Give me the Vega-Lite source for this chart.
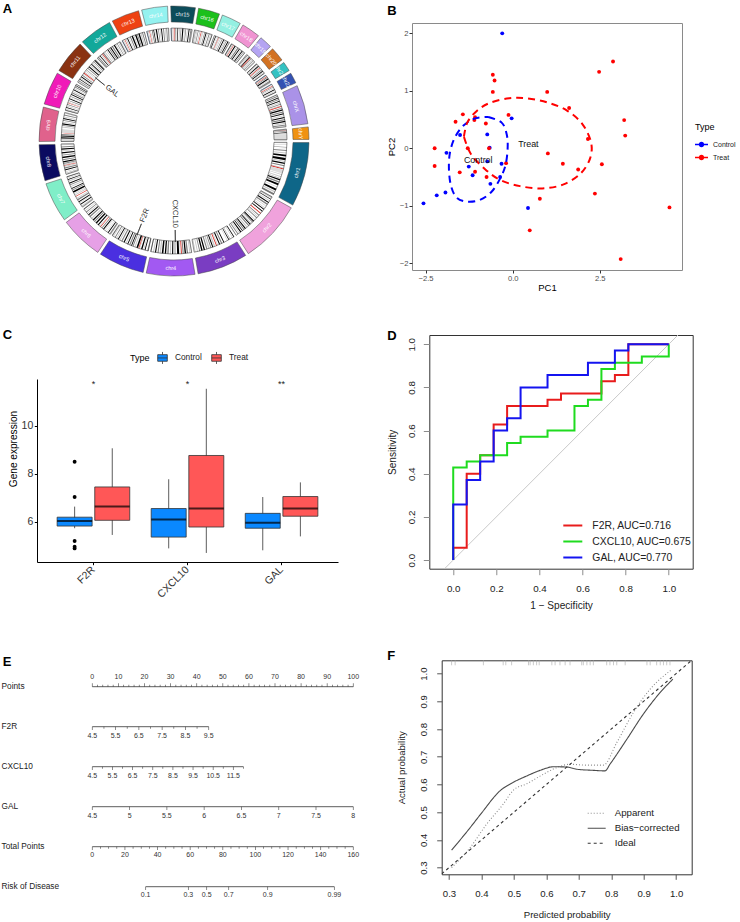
{
  "$schema": "https://vega.github.io/schema/vega-lite/v6.json",
  "padding": {"left": 1, "top": 3, "right": 0, "bottom": 0},
  "config": {
    "font": "Liberation Sans",
    "view": {"stroke": null},
    "axis": {"grid": false, "labelOverlap": false},
    "axisQuantitative": {"labelOverlap": false},
    "title": {"fontSize": 13, "fontWeight": "bold", "anchor": "start", "frame": "group", "offset": 0, "baseline": "alphabetic", "color": "black"}
  },
  "datasets": {
    "chroms": [
      {"c": "chr1", "s": 0, "e": 248.96}, {"c": "chr2", "s": 248.96, "e": 491.15}, {"c": "chr3", "s": 491.15, "e": 689.45},
      {"c": "chr4", "s": 689.45, "e": 879.66}, {"c": "chr5", "s": 879.66, "e": 1061.2}, {"c": "chr6", "s": 1061.2, "e": 1232.01},
      {"c": "chr7", "s": 1232.01, "e": 1391.36}, {"c": "chr8", "s": 1391.36, "e": 1536.5}, {"c": "chr9", "s": 1536.5, "e": 1674.89},
      {"c": "chr10", "s": 1674.89, "e": 1808.69}, {"c": "chr11", "s": 1808.69, "e": 1943.78}, {"c": "chr12", "s": 1943.78, "e": 2077.06},
      {"c": "chr13", "s": 2077.06, "e": 2191.42}, {"c": "chr14", "s": 2191.42, "e": 2298.46}, {"c": "chr15", "s": 2298.46, "e": 2400.45},
      {"c": "chr16", "s": 2400.45, "e": 2490.79}, {"c": "chr17", "s": 2490.79, "e": 2574.05}, {"c": "chr18", "s": 2574.05, "e": 2654.42},
      {"c": "chr19", "s": 2654.42, "e": 2713.04}, {"c": "chr20", "s": 2713.04, "e": 2777.48}, {"c": "chr21", "s": 2777.48, "e": 2824.19},
      {"c": "chr22", "s": 2824.19, "e": 2875.01}, {"c": "chrX", "s": 2875.01, "e": 3031.05}, {"c": "chrY", "s": 3031.05, "e": 3088.28}
    ],
    "bands": [
      {"c":"chr1","s":7,"e":10,"g":"3"},{"c":"chr1","s":15,"e":17,"g":"3"},{"c":"chr1","s":26,"e":28,"g":"2"},{"c":"chr1","s":34,"e":35,"g":"3"},{"c":"chr1","s":39,"e":44,"g":"2"},{"c":"chr1","s":50,"e":55,"g":"3"},{"c":"chr1","s":60,"e":68,"g":"1"},{"c":"chr1","s":74,"e":84,"g":"1"},{"c":"chr1","s":87,"e":92,"g":"3"},{"c":"chr1","s":95,"e":101,"g":"1"},{"c":"chr1","s":106,"e":111,"g":"2"},{"c":"chr1","s":117,"e":121,"g":"3"},{"c":"chr1","s":121,"e":125,"g":"a"},{"c":"chr1","s":125,"e":143,"g":"v"},{"c":"chr1","s":147,"e":150,"g":"3"},{"c":"chr1","s":156,"e":160,"g":"3"},{"c":"chr1","s":165,"e":167,"g":"2"},{"c":"chr1","s":170,"e":176,"g":"1"},{"c":"chr1","s":180,"e":186,"g":"2"},{"c":"chr1","s":190,"e":198,"g":"1"},{"c":"chr1","s":205,"e":207,"g":"3"},{"c":"chr1","s":214,"e":223,"g":"1"},{"c":"chr1","s":227,"e":232,"g":"3"},{"c":"chr1","s":236,"e":243,"g":"2"},
      {"c":"chr2","s":4,"e":12,"g":"3"},{"c":"chr2","s":16,"e":19,"g":"1"},{"c":"chr2","s":24,"e":28,"g":"3"},{"c":"chr2","s":32,"e":37,"g":"1"},{"c":"chr2","s":41,"e":47,"g":"2"},{"c":"chr2","s":52,"e":55,"g":"3"},{"c":"chr2","s":61,"e":64,"g":"3"},{"c":"chr2","s":68,"e":72,"g":"1"},{"c":"chr2","s":79,"e":83,"g":"1"},{"c":"chr2","s":91,"e":95,"g":"a"},{"c":"chr2","s":102,"e":106,"g":"2"},{"c":"chr2","s":110,"e":113,"g":"3"},{"c":"chr2","s":117,"e":121,"g":"2"},{"c":"chr2","s":128,"e":131,"g":"3"},{"c":"chr2","s":136,"e":141,"g":"1"},{"c":"chr2","s":143,"e":147,"g":"2"},{"c":"chr2","s":151,"e":155,"g":"3"},{"c":"chr2","s":157,"e":161,"g":"1"},{"c":"chr2","s":165,"e":170,"g":"2"},{"c":"chr2","s":175,"e":180,"g":"3"},{"c":"chr2","s":184,"e":189,"g":"1"},{"c":"chr2","s":192,"e":196,"g":"2"},{"c":"chr2","s":201,"e":204,"g":"1"},{"c":"chr2","s":209,"e":214,"g":"1"},{"c":"chr2","s":218,"e":221,"g":"3"},{"c":"chr2","s":225,"e":229,"g":"2"},{"c":"chr2","s":235,"e":237,"g":"3"},
      {"c":"chr3","s":5,"e":8,"g":"1"},{"c":"chr3","s":12,"e":15,"g":"3"},{"c":"chr3","s":24,"e":26,"g":"2"},{"c":"chr3","s":30,"e":33,"g":"1"},{"c":"chr3","s":38,"e":40,"g":"3"},{"c":"chr3","s":54,"e":58,"g":"1"},{"c":"chr3","s":64,"e":69,"g":"2"},{"c":"chr3","s":74,"e":79,"g":"1"},{"c":"chr3","s":84,"e":87,"g":"3"},{"c":"chr3","s":89,"e":93,"g":"a"},{"c":"chr3","s":97,"e":103,"g":"3"},{"c":"chr3","s":106,"e":111,"g":"1"},{"c":"chr3","s":115,"e":119,"g":"2"},{"c":"chr3","s":123,"e":129,"g":"3"},{"c":"chr3","s":133,"e":138,"g":"2"},{"c":"chr3","s":144,"e":150,"g":"1"},{"c":"chr3","s":155,"e":161,"g":"1"},{"c":"chr3","s":166,"e":170,"g":"2"},{"c":"chr3","s":176,"e":180,"g":"3"},{"c":"chr3","s":186,"e":190,"g":"3"},
      {"c":"chr4","s":3,"e":7,"g":"3"},{"c":"chr4","s":11,"e":15,"g":"3"},{"c":"chr4","s":21,"e":27,"g":"2"},{"c":"chr4","s":30,"e":36,"g":"1"},{"c":"chr4","s":40,"e":45,"g":"2"},{"c":"chr4","s":48,"e":52,"g":"a"},{"c":"chr4","s":54,"e":57,"g":"3"},{"c":"chr4","s":60,"e":69,"g":"1"},{"c":"chr4","s":76,"e":80,"g":"2"},{"c":"chr4","s":86,"e":91,"g":"1"},{"c":"chr4","s":96,"e":101,"g":"3"},{"c":"chr4","s":106,"e":112,"g":"2"},{"c":"chr4","s":117,"e":123,"g":"1"},{"c":"chr4","s":129,"e":136,"g":"1"},{"c":"chr4","s":140,"e":146,"g":"3"},{"c":"chr4","s":150,"e":155,"g":"2"},{"c":"chr4","s":161,"e":166,"g":"1"},{"c":"chr4","s":170,"e":175,"g":"3"},{"c":"chr4","s":182,"e":186,"g":"2"},
      {"c":"chr5","s":5,"e":10,"g":"2"},{"c":"chr5","s":18,"e":22,"g":"1"},{"c":"chr5","s":25,"e":28,"g":"3"},{"c":"chr5","s":32,"e":38,"g":"1"},{"c":"chr5","s":43,"e":46,"g":"3"},{"c":"chr5","s":47,"e":50,"g":"a"},{"c":"chr5","s":52,"e":59,"g":"1"},{"c":"chr5","s":64,"e":68,"g":"3"},{"c":"chr5","s":73,"e":77,"g":"2"},{"c":"chr5","s":80,"e":84,"g":"1"},{"c":"chr5","s":88,"e":93,"g":"2"},{"c":"chr5","s":98,"e":102,"g":"1"},{"c":"chr5","s":106,"e":110,"g":"3"},{"c":"chr5","s":115,"e":120,"g":"1"},{"c":"chr5","s":126,"e":131,"g":"2"},{"c":"chr5","s":136,"e":140,"g":"3"},{"c":"chr5","s":144,"e":148,"g":"1"},{"c":"chr5","s":152,"e":156,"g":"3"},{"c":"chr5","s":160,"e":164,"g":"2"},{"c":"chr5","s":169,"e":172,"g":"3"},{"c":"chr5","s":176,"e":179,"g":"2"},
      {"c":"chr6","s":2,"e":4,"g":"3"},{"c":"chr6","s":7,"e":10,"g":"2"},{"c":"chr6","s":15,"e":19,"g":"1"},{"c":"chr6","s":23,"e":25,"g":"3"},{"c":"chr6","s":30,"e":31,"g":"3"},{"c":"chr6","s":35,"e":37,"g":"3"},{"c":"chr6","s":40,"e":45,"g":"1"},{"c":"chr6","s":49,"e":53,"g":"2"},{"c":"chr6","s":58,"e":61,"g":"a"},{"c":"chr6","s":62,"e":65,"g":"3"},{"c":"chr6","s":70,"e":75,"g":"1"},{"c":"chr6","s":81,"e":87,"g":"1"},{"c":"chr6","s":92,"e":96,"g":"2"},{"c":"chr6","s":100,"e":105,"g":"1"},{"c":"chr6","s":110,"e":114,"g":"3"},{"c":"chr6","s":120,"e":126,"g":"2"},{"c":"chr6","s":130,"e":135,"g":"1"},{"c":"chr6","s":139,"e":142,"g":"3"},{"c":"chr6","s":146,"e":150,"g":"2"},{"c":"chr6","s":155,"e":158,"g":"3"},{"c":"chr6","s":163,"e":167,"g":"2"},
      {"c":"chr7","s":2,"e":5,"g":"3"},{"c":"chr7","s":8,"e":12,"g":"3"},{"c":"chr7","s":17,"e":21,"g":"1"},{"c":"chr7","s":26,"e":28,"g":"3"},{"c":"chr7","s":31,"e":35,"g":"1"},{"c":"chr7","s":40,"e":46,"g":"2"},{"c":"chr7","s":49,"e":52,"g":"3"},{"c":"chr7","s":58,"e":61,"g":"a"},{"c":"chr7","s":65,"e":69,"g":"3"},{"c":"chr7","s":72,"e":75,"g":"3"},{"c":"chr7","s":78,"e":86,"g":"1"},{"c":"chr7","s":89,"e":93,"g":"2"},{"c":"chr7","s":97,"e":100,"g":"1"},{"c":"chr7","s":106,"e":110,"g":"3"},{"c":"chr7","s":114,"e":118,"g":"2"},{"c":"chr7","s":122,"e":126,"g":"1"},{"c":"chr7","s":131,"e":136,"g":"3"},{"c":"chr7","s":139,"e":142,"g":"1"},{"c":"chr7","s":146,"e":148,"g":"3"},{"c":"chr7","s":152,"e":155,"g":"2"},
      {"c":"chr8","s":3,"e":6,"g":"3"},{"c":"chr8","s":10,"e":12,"g":"2"},{"c":"chr8","s":16,"e":18,"g":"3"},{"c":"chr8","s":23,"e":27,"g":"1"},{"c":"chr8","s":31,"e":36,"g":"2"},{"c":"chr8","s":39,"e":43,"g":"3"},{"c":"chr8","s":44,"e":46,"g":"a"},{"c":"chr8","s":47,"e":51,"g":"3"},{"c":"chr8","s":52,"e":56,"g":"2"},{"c":"chr8","s":59,"e":64,"g":"1"},{"c":"chr8","s":69,"e":73,"g":"2"},{"c":"chr8","s":77,"e":84,"g":"1"},{"c":"chr8","s":89,"e":93,"g":"2"},{"c":"chr8","s":98,"e":104,"g":"1"},{"c":"chr8","s":108,"e":111,"g":"3"},{"c":"chr8","s":115,"e":120,"g":"1"},{"c":"chr8","s":125,"e":129,"g":"2"},{"c":"chr8","s":134,"e":137,"g":"3"},{"c":"chr8","s":141,"e":143,"g":"3"},
      {"c":"chr9","s":4,"e":7,"g":"2"},{"c":"chr9","s":10,"e":15,"g":"3"},{"c":"chr9","s":19,"e":24,"g":"1"},{"c":"chr9","s":27,"e":32,"g":"1"},{"c":"chr9","s":34,"e":38,"g":"2"},{"c":"chr9","s":42,"e":44,"g":"a"},{"c":"chr9","s":44,"e":60,"g":"v"},{"c":"chr9","s":67,"e":71,"g":"3"},{"c":"chr9","s":74,"e":78,"g":"2"},{"c":"chr9","s":80,"e":85,"g":"1"},{"c":"chr9","s":88,"e":92,"g":"3"},{"c":"chr9","s":96,"e":100,"g":"2"},{"c":"chr9","s":104,"e":108,"g":"1"},{"c":"chr9","s":112,"e":115,"g":"3"},{"c":"chr9","s":120,"e":124,"g":"2"},{"c":"chr9","s":128,"e":131,"g":"3"},{"c":"chr9","s":134,"e":136,"g":"3"},
      {"c":"chr10","s":3,"e":6,"g":"2"},{"c":"chr10","s":9,"e":12,"g":"3"},{"c":"chr10","s":16,"e":19,"g":"1"},{"c":"chr10","s":23,"e":26,"g":"3"},{"c":"chr10","s":30,"e":33,"g":"2"},{"c":"chr10","s":38,"e":40,"g":"a"},{"c":"chr10","s":41,"e":44,"g":"3"},{"c":"chr10","s":48,"e":51,"g":"2"},{"c":"chr10","s":56,"e":60,"g":"1"},{"c":"chr10","s":62,"e":64,"g":"3"},{"c":"chr10","s":68,"e":71,"g":"2"},{"c":"chr10","s":76,"e":80,"g":"1"},{"c":"chr10","s":84,"e":88,"g":"2"},{"c":"chr10","s":91,"e":94,"g":"3"},{"c":"chr10","s":99,"e":103,"g":"1"},{"c":"chr10","s":106,"e":109,"g":"3"},{"c":"chr10","s":113,"e":117,"g":"2"},{"c":"chr10","s":120,"e":123,"g":"1"},{"c":"chr10","s":127,"e":130,"g":"3"},
      {"c":"chr11","s":3,"e":6,"g":"3"},{"c":"chr11","s":11,"e":15,"g":"2"},{"c":"chr11","s":19,"e":22,"g":"1"},{"c":"chr11","s":25,"e":28,"g":"3"},{"c":"chr11","s":31,"e":35,"g":"1"},{"c":"chr11","s":39,"e":43,"g":"2"},{"c":"chr11","s":47,"e":50,"g":"3"},{"c":"chr11","s":51,"e":55,"g":"a"},{"c":"chr11","s":57,"e":60,"g":"3"},{"c":"chr11","s":64,"e":66,"g":"3"},{"c":"chr11","s":70,"e":72,"g":"2"},{"c":"chr11","s":78,"e":82,"g":"2"},{"c":"chr11","s":86,"e":91,"g":"1"},{"c":"chr11","s":95,"e":99,"g":"3"},{"c":"chr11","s":102,"e":106,"g":"1"},{"c":"chr11","s":110,"e":113,"g":"3"},{"c":"chr11","s":117,"e":120,"g":"2"},{"c":"chr11","s":124,"e":128,"g":"1"},{"c":"chr11","s":131,"e":133,"g":"3"},
      {"c":"chr12","s":3,"e":6,"g":"3"},{"c":"chr12","s":9,"e":14,"g":"2"},{"c":"chr12","s":19,"e":22,"g":"1"},{"c":"chr12","s":26,"e":30,"g":"3"},{"c":"chr12","s":33,"e":36,"g":"a"},{"c":"chr12","s":37,"e":42,"g":"2"},{"c":"chr12","s":46,"e":50,"g":"3"},{"c":"chr12","s":55,"e":58,"g":"3"},{"c":"chr12","s":62,"e":66,"g":"1"},{"c":"chr12","s":70,"e":74,"g":"2"},{"c":"chr12","s":77,"e":82,"g":"1"},{"c":"chr12","s":86,"e":91,"g":"2"},{"c":"chr12","s":96,"e":101,"g":"1"},{"c":"chr12","s":104,"e":107,"g":"3"},{"c":"chr12","s":111,"e":114,"g":"2"},{"c":"chr12","s":118,"e":121,"g":"3"},{"c":"chr12","s":124,"e":127,"g":"2"},{"c":"chr12","s":130,"e":132,"g":"3"},
      {"c":"chr13","s":3,"e":6,"g":"t"},{"c":"chr13","s":10,"e":13,"g":"3"},{"c":"chr13","s":16,"e":18,"g":"a"},{"c":"chr13","s":21,"e":25,"g":"3"},{"c":"chr13","s":28,"e":32,"g":"1"},{"c":"chr13","s":36,"e":38,"g":"3"},{"c":"chr13","s":42,"e":46,"g":"2"},{"c":"chr13","s":50,"e":56,"g":"1"},{"c":"chr13","s":59,"e":62,"g":"3"},{"c":"chr13","s":66,"e":72,"g":"1"},{"c":"chr13","s":74,"e":78,"g":"2"},{"c":"chr13","s":81,"e":87,"g":"1"},{"c":"chr13","s":90,"e":95,"g":"3"},{"c":"chr13","s":98,"e":102,"g":"2"},{"c":"chr13","s":106,"e":110,"g":"3"},
      {"c":"chr14","s":3,"e":6,"g":"t"},{"c":"chr14","s":10,"e":13,"g":"3"},{"c":"chr14","s":16,"e":18,"g":"a"},{"c":"chr14","s":20,"e":23,"g":"3"},{"c":"chr14","s":27,"e":31,"g":"2"},{"c":"chr14","s":34,"e":37,"g":"1"},{"c":"chr14","s":40,"e":42,"g":"3"},{"c":"chr14","s":45,"e":50,"g":"1"},{"c":"chr14","s":55,"e":58,"g":"2"},{"c":"chr14","s":62,"e":65,"g":"3"},{"c":"chr14","s":68,"e":72,"g":"1"},{"c":"chr14","s":77,"e":81,"g":"2"},{"c":"chr14","s":85,"e":88,"g":"3"},{"c":"chr14","s":91,"e":95,"g":"2"},{"c":"chr14","s":99,"e":102,"g":"3"},
      {"c":"chr15","s":3,"e":6,"g":"t"},{"c":"chr15","s":11,"e":14,"g":"3"},{"c":"chr15","s":17,"e":20,"g":"a"},{"c":"chr15","s":22,"e":25,"g":"2"},{"c":"chr15","s":28,"e":30,"g":"3"},{"c":"chr15","s":33,"e":36,"g":"1"},{"c":"chr15","s":40,"e":44,"g":"3"},{"c":"chr15","s":47,"e":50,"g":"2"},{"c":"chr15","s":54,"e":59,"g":"1"},{"c":"chr15","s":63,"e":66,"g":"3"},{"c":"chr15","s":68,"e":71,"g":"2"},{"c":"chr15","s":75,"e":78,"g":"3"},{"c":"chr15","s":82,"e":86,"g":"1"},{"c":"chr15","s":90,"e":94,"g":"2"},{"c":"chr15","s":97,"e":100,"g":"3"},
      {"c":"chr16","s":4,"e":7,"g":"3"},{"c":"chr16","s":10,"e":12,"g":"2"},{"c":"chr16","s":15,"e":18,"g":"3"},{"c":"chr16","s":21,"e":24,"g":"2"},{"c":"chr16","s":28,"e":32,"g":"3"},{"c":"chr16","s":35,"e":38,"g":"a"},{"c":"chr16","s":38,"e":46,"g":"v"},{"c":"chr16","s":50,"e":53,"g":"2"},{"c":"chr16","s":56,"e":60,"g":"1"},{"c":"chr16","s":63,"e":66,"g":"3"},{"c":"chr16","s":70,"e":74,"g":"2"},{"c":"chr16","s":77,"e":80,"g":"3"},{"c":"chr16","s":84,"e":87,"g":"2"},
      {"c":"chr17","s":3,"e":6,"g":"3"},{"c":"chr17","s":10,"e":13,"g":"1"},{"c":"chr17","s":16,"e":18,"g":"3"},{"c":"chr17","s":22,"e":24,"g":"2"},{"c":"chr17","s":25,"e":27,"g":"a"},{"c":"chr17","s":28,"e":31,"g":"3"},{"c":"chr17","s":34,"e":37,"g":"3"},{"c":"chr17","s":41,"e":44,"g":"2"},{"c":"chr17","s":48,"e":52,"g":"1"},{"c":"chr17","s":55,"e":58,"g":"3"},{"c":"chr17","s":61,"e":64,"g":"2"},{"c":"chr17","s":68,"e":72,"g":"1"},{"c":"chr17","s":75,"e":78,"g":"3"},
      {"c":"chr18","s":3,"e":7,"g":"2"},{"c":"chr18","s":10,"e":14,"g":"3"},{"c":"chr18","s":15,"e":17,"g":"a"},{"c":"chr18","s":21,"e":26,"g":"1"},{"c":"chr18","s":29,"e":32,"g":"3"},{"c":"chr18","s":36,"e":41,"g":"2"},{"c":"chr18","s":44,"e":48,"g":"1"},{"c":"chr18","s":52,"e":56,"g":"3"},{"c":"chr18","s":59,"e":63,"g":"1"},{"c":"chr18","s":66,"e":69,"g":"2"},{"c":"chr18","s":72,"e":76,"g":"3"},
      {"c":"chr19","s":4,"e":7,"g":"3"},{"c":"chr19","s":9,"e":12,"g":"2"},{"c":"chr19","s":15,"e":18,"g":"3"},{"c":"chr19","s":20,"e":24,"g":"1"},{"c":"chr19","s":25,"e":28,"g":"a"},{"c":"chr19","s":30,"e":33,"g":"2"},{"c":"chr19","s":36,"e":39,"g":"3"},{"c":"chr19","s":42,"e":45,"g":"2"},{"c":"chr19","s":48,"e":51,"g":"3"},{"c":"chr19","s":54,"e":56,"g":"3"},
      {"c":"chr20","s":5,"e":9,"g":"2"},{"c":"chr20","s":12,"e":15,"g":"3"},{"c":"chr20","s":17,"e":21,"g":"1"},{"c":"chr20","s":23,"e":26,"g":"3"},{"c":"chr20","s":27,"e":30,"g":"a"},{"c":"chr20","s":32,"e":35,"g":"3"},{"c":"chr20","s":38,"e":42,"g":"2"},{"c":"chr20","s":45,"e":49,"g":"1"},{"c":"chr20","s":52,"e":55,"g":"3"},{"c":"chr20","s":58,"e":61,"g":"2"},
      {"c":"chr21","s":3,"e":6,"g":"t"},{"c":"chr21","s":8,"e":10,"g":"3"},{"c":"chr21","s":11,"e":13,"g":"a"},{"c":"chr21","s":15,"e":19,"g":"2"},{"c":"chr21","s":22,"e":27,"g":"1"},{"c":"chr21","s":29,"e":32,"g":"3"},{"c":"chr21","s":35,"e":39,"g":"2"},{"c":"chr21","s":42,"e":45,"g":"3"},
      {"c":"chr22","s":3,"e":6,"g":"t"},{"c":"chr22","s":9,"e":11,"g":"3"},{"c":"chr22","s":13,"e":15,"g":"a"},{"c":"chr22","s":18,"e":21,"g":"2"},{"c":"chr22","s":24,"e":27,"g":"3"},{"c":"chr22","s":30,"e":34,"g":"1"},{"c":"chr22","s":37,"e":40,"g":"3"},{"c":"chr22","s":43,"e":46,"g":"2"},
      {"c":"chrX","s":4,"e":8,"g":"3"},{"c":"chrX","s":11,"e":15,"g":"2"},{"c":"chrX","s":19,"e":23,"g":"1"},{"c":"chrX","s":26,"e":30,"g":"2"},{"c":"chrX","s":34,"e":38,"g":"1"},{"c":"chrX","s":41,"e":45,"g":"3"},{"c":"chrX","s":48,"e":52,"g":"2"},{"c":"chrX","s":55,"e":58,"g":"3"},{"c":"chrX","s":58,"e":62,"g":"a"},{"c":"chrX","s":66,"e":70,"g":"2"},{"c":"chrX","s":73,"e":79,"g":"1"},{"c":"chrX","s":83,"e":88,"g":"2"},{"c":"chrX","s":91,"e":96,"g":"1"},{"c":"chrX","s":100,"e":104,"g":"3"},{"c":"chrX","s":108,"e":113,"g":"1"},{"c":"chrX","s":117,"e":122,"g":"2"},{"c":"chrX","s":125,"e":130,"g":"1"},{"c":"chrX","s":134,"e":138,"g":"3"},{"c":"chrX","s":141,"e":146,"g":"2"},{"c":"chrX","s":150,"e":153,"g":"3"},
      {"c":"chrY","s":3,"e":6,"g":"3"},{"c":"chrY","s":8,"e":10,"g":"2"},{"c":"chrY","s":10,"e":11,"g":"a"},{"c":"chrY","s":13,"e":16,"g":"2"},{"c":"chrY","s":19,"e":22,"g":"1"},{"c":"chrY","s":24,"e":27,"g":"3"},{"c":"chrY","s":27,"e":56,"g":"v"}
    ],
    "genes": [
      {"gene": "GAL", "c": "chr11", "p": 68.7},
      {"gene": "F2R", "c": "chr5", "p": 76.7},
      {"gene": "CXCL10", "c": "chr4", "p": 76.0}
    ],
    "pca": [
      {"t":"Control","pc1":-0.30,"pc2":2.00},{"t":"Control","pc1":-0.03,"pc2":0.52},{"t":"Control","pc1":-0.73,"pc2":0.24},{"t":"Control","pc1":-1.51,"pc2":0.23},
      {"t":"Control","pc1":-0.66,"pc2":0.01},{"t":"Control","pc1":-1.90,"pc2":-0.08},{"t":"Control","pc1":-1.26,"pc2":-0.32},{"t":"Control","pc1":-0.73,"pc2":-0.23},
      {"t":"Control","pc1":-0.32,"pc2":-0.27},{"t":"Control","pc1":-1.15,"pc2":-0.47},{"t":"Control","pc1":-0.64,"pc2":-0.62},{"t":"Control","pc1":-1.93,"pc2":-0.77},
      {"t":"Control","pc1":-2.18,"pc2":-0.82},{"t":"Control","pc1":-2.56,"pc2":-0.96},{"t":"Control","pc1":0.44,"pc2":-1.04},{"t":"Control","pc1":-0.36,"pc2":-0.50},
      {"t":"Treat","pc1":-0.57,"pc2":1.28},{"t":"Treat","pc1":-0.52,"pc2":1.18},{"t":"Treat","pc1":-0.57,"pc2":0.98},{"t":"Treat","pc1":0.99,"pc2":0.98},
      {"t":"Treat","pc1":2.48,"pc2":1.33},{"t":"Treat","pc1":2.88,"pc2":1.51},{"t":"Treat","pc1":1.62,"pc2":0.70},{"t":"Treat","pc1":-0.12,"pc2":0.58},
      {"t":"Treat","pc1":-1.43,"pc2":0.59},{"t":"Treat","pc1":-1.64,"pc2":0.46},{"t":"Treat","pc1":-1.08,"pc2":0.54},{"t":"Treat","pc1":-1.10,"pc2":0.49},
      {"t":"Treat","pc1":-0.77,"pc2":0.43},{"t":"Treat","pc1":3.20,"pc2":0.49},{"t":"Treat","pc1":3.23,"pc2":0.22},{"t":"Treat","pc1":2.16,"pc2":0.16},
      {"t":"Treat","pc1":-2.24,"pc2":0.0},{"t":"Treat","pc1":-1.29,"pc2":0.0},{"t":"Treat","pc1":-0.68,"pc2":0.0},{"t":"Treat","pc1":1.01,"pc2":-0.09},
      {"t":"Treat","pc1":-2.24,"pc2":-0.31},{"t":"Treat","pc1":-1.52,"pc2":-0.42},{"t":"Treat","pc1":-1.08,"pc2":-0.41},{"t":"Treat","pc1":-0.75,"pc2":-0.50},
      {"t":"Treat","pc1":-0.19,"pc2":-0.26},{"t":"Treat","pc1":1.44,"pc2":-0.27},{"t":"Treat","pc1":1.88,"pc2":-0.37},{"t":"Treat","pc1":2.56,"pc2":-0.28},
      {"t":"Treat","pc1":2.36,"pc2":-0.79},{"t":"Treat","pc1":0.78,"pc2":-0.88},{"t":"Treat","pc1":0.49,"pc2":-1.43},{"t":"Treat","pc1":4.50,"pc2":-1.03},
      {"t":"Treat","pc1":3.10,"pc2":-1.93}
    ],
    "pcaEllipse": [
      {"t":"Control","i":0,"pc1":-0.70,"pc2":0.545},{"t":"Control","i":1,"pc1":-0.316,"pc2":0.446},{"t":"Control","i":2,"pc1":-0.172,"pc2":0.243},{"t":"Control","i":3,"pc1":-0.144,"pc2":0.012},
      {"t":"Control","i":4,"pc1":-0.20,"pc2":-0.278},{"t":"Control","i":5,"pc1":-0.345,"pc2":-0.51},{"t":"Control","i":6,"pc1":-0.60,"pc2":-0.754},{"t":"Control","i":7,"pc1":-0.94,"pc2":-0.90},
      {"t":"Control","i":8,"pc1":-1.32,"pc2":-0.93},{"t":"Control","i":9,"pc1":-1.61,"pc2":-0.86},{"t":"Control","i":10,"pc1":-1.77,"pc2":-0.655},{"t":"Control","i":11,"pc1":-1.83,"pc2":-0.365},
      {"t":"Control","i":12,"pc1":-1.80,"pc2":-0.075},{"t":"Control","i":13,"pc1":-1.66,"pc2":0.186},{"t":"Control","i":14,"pc1":-1.42,"pc2":0.39},{"t":"Control","i":15,"pc1":-1.08,"pc2":0.52},
      {"t":"Control","i":16,"pc1":-0.70,"pc2":0.545},
      {"t":"Treat","i":0,"pc1":-1.40,"pc2":0.20},{"t":"Treat","i":1,"pc1":-1.30,"pc2":0.45},{"t":"Treat","i":2,"pc1":-1.03,"pc2":0.65},{"t":"Treat","i":3,"pc1":-0.65,"pc2":0.79},
      {"t":"Treat","i":4,"pc1":-0.10,"pc2":0.87},{"t":"Treat","i":5,"pc1":0.40,"pc2":0.87},{"t":"Treat","i":6,"pc1":0.98,"pc2":0.80},{"t":"Treat","i":7,"pc1":1.55,"pc2":0.66},
      {"t":"Treat","i":8,"pc1":2.00,"pc2":0.42},{"t":"Treat","i":9,"pc1":2.25,"pc2":0.10},{"t":"Treat","i":10,"pc1":2.22,"pc2":-0.18},{"t":"Treat","i":11,"pc1":1.95,"pc2":-0.44},
      {"t":"Treat","i":12,"pc1":1.46,"pc2":-0.63},{"t":"Treat","i":13,"pc1":0.85,"pc2":-0.70},{"t":"Treat","i":14,"pc1":0.21,"pc2":-0.66},{"t":"Treat","i":15,"pc1":-0.37,"pc2":-0.55},
      {"t":"Treat","i":16,"pc1":-0.80,"pc2":-0.36},{"t":"Treat","i":17,"pc1":-1.20,"pc2":-0.10},{"t":"Treat","i":18,"pc1":-1.40,"pc2":0.20}
    ],
    "pcaCentres": [
      {"t": "Control", "pc1": -0.99, "pc2": -0.20},
      {"t": "Treat", "pc1": 0.45, "pc2": 0.08}
    ],
    "boxes": [
      {"g":"F2R","t":"Control","lo":5.74,"q1":5.83,"med":6.04,"q3":6.20,"hi":6.64},
      {"g":"F2R","t":"Treat","lo":5.46,"q1":6.07,"med":6.64,"q3":7.46,"hi":9.07},
      {"g":"CXCL10","t":"Control","lo":4.90,"q1":5.37,"med":6.10,"q3":6.56,"hi":7.78},
      {"g":"CXCL10","t":"Treat","lo":4.71,"q1":5.79,"med":6.56,"q3":8.77,"hi":11.55},
      {"g":"GAL","t":"Control","lo":4.82,"q1":5.74,"med":5.97,"q3":6.36,"hi":7.04},
      {"g":"GAL","t":"Treat","lo":5.40,"q1":6.24,"med":6.56,"q3":7.06,"hi":7.65}
    ],
    "outliers": [
      {"g":"F2R","t":"Control","v":8.51},{"g":"F2R","t":"Control","v":7.04},{"g":"F2R","t":"Control","v":5.21},
      {"g":"F2R","t":"Control","v":4.97},{"g":"F2R","t":"Control","v":4.90}
    ],
    "stars": [
      {"g": "F2R", "s": "*"}, {"g": "CXCL10", "s": "*"}, {"g": "GAL", "s": "**"}
    ],
    "roc": [
      {"g":"F2R","i":0,"fpr":0,"tpr":0},{"g":"F2R","i":1,"fpr":0,"tpr":0.0571},{"g":"F2R","i":2,"fpr":0.0625,"tpr":0.4},{"g":"F2R","i":3,"fpr":0.125,"tpr":0.4857},
      {"g":"F2R","i":4,"fpr":0.1875,"tpr":0.6286},{"g":"F2R","i":5,"fpr":0.25,"tpr":0.7143},{"g":"F2R","i":6,"fpr":0.4375,"tpr":0.7429},{"g":"F2R","i":7,"fpr":0.5,"tpr":0.7714},
      {"g":"F2R","i":8,"fpr":0.6875,"tpr":0.8286},{"g":"F2R","i":9,"fpr":0.75,"tpr":0.8571},{"g":"F2R","i":10,"fpr":0.8125,"tpr":1},{"g":"F2R","i":11,"fpr":1,"tpr":1},
      {"g":"CXCL10","i":0,"fpr":0,"tpr":0},{"g":"CXCL10","i":1,"fpr":0,"tpr":0.4286},{"g":"CXCL10","i":2,"fpr":0.0625,"tpr":0.4571},{"g":"CXCL10","i":3,"fpr":0.125,"tpr":0.4857},
      {"g":"CXCL10","i":4,"fpr":0.25,"tpr":0.5429},{"g":"CXCL10","i":5,"fpr":0.3125,"tpr":0.5714},{"g":"CXCL10","i":6,"fpr":0.4375,"tpr":0.6},{"g":"CXCL10","i":7,"fpr":0.5625,"tpr":0.7143},
      {"g":"CXCL10","i":8,"fpr":0.625,"tpr":0.7429},{"g":"CXCL10","i":9,"fpr":0.6875,"tpr":0.8857},{"g":"CXCL10","i":10,"fpr":0.75,"tpr":0.9143},{"g":"CXCL10","i":11,"fpr":0.875,"tpr":0.9429},
      {"g":"CXCL10","i":12,"fpr":1,"tpr":1},
      {"g":"GAL","i":0,"fpr":0,"tpr":0},{"g":"GAL","i":1,"fpr":0,"tpr":0.2571},{"g":"GAL","i":2,"fpr":0.0625,"tpr":0.3714},{"g":"GAL","i":3,"fpr":0.125,"tpr":0.4571},
      {"g":"GAL","i":4,"fpr":0.1875,"tpr":0.6},{"g":"GAL","i":5,"fpr":0.25,"tpr":0.6571},{"g":"GAL","i":6,"fpr":0.3125,"tpr":0.8},{"g":"GAL","i":7,"fpr":0.4375,"tpr":0.8571},
      {"g":"GAL","i":8,"fpr":0.625,"tpr":0.9143},{"g":"GAL","i":9,"fpr":0.75,"tpr":0.9714},{"g":"GAL","i":10,"fpr":0.8125,"tpr":1},{"g":"GAL","i":11,"fpr":1,"tpr":1}
    ],
    "nomoPts": [
      {"r":"Points","x":0,"l":"0"},{"r":"Points","x":2,"l":""},{"r":"Points","x":4,"l":""},{"r":"Points","x":6,"l":""},{"r":"Points","x":8,"l":""},
      {"r":"Points","x":10,"l":"10"},{"r":"Points","x":12,"l":""},{"r":"Points","x":14,"l":""},{"r":"Points","x":16,"l":""},{"r":"Points","x":18,"l":""},
      {"r":"Points","x":20,"l":"20"},{"r":"Points","x":22,"l":""},{"r":"Points","x":24,"l":""},{"r":"Points","x":26,"l":""},{"r":"Points","x":28,"l":""},
      {"r":"Points","x":30,"l":"30"},{"r":"Points","x":32,"l":""},{"r":"Points","x":34,"l":""},{"r":"Points","x":36,"l":""},{"r":"Points","x":38,"l":""},
      {"r":"Points","x":40,"l":"40"},{"r":"Points","x":42,"l":""},{"r":"Points","x":44,"l":""},{"r":"Points","x":46,"l":""},{"r":"Points","x":48,"l":""},
      {"r":"Points","x":50,"l":"50"},{"r":"Points","x":52,"l":""},{"r":"Points","x":54,"l":""},{"r":"Points","x":56,"l":""},{"r":"Points","x":58,"l":""},
      {"r":"Points","x":60,"l":"60"},{"r":"Points","x":62,"l":""},{"r":"Points","x":64,"l":""},{"r":"Points","x":66,"l":""},{"r":"Points","x":68,"l":""},
      {"r":"Points","x":70,"l":"70"},{"r":"Points","x":72,"l":""},{"r":"Points","x":74,"l":""},{"r":"Points","x":76,"l":""},{"r":"Points","x":78,"l":""},
      {"r":"Points","x":80,"l":"80"},{"r":"Points","x":82,"l":""},{"r":"Points","x":84,"l":""},{"r":"Points","x":86,"l":""},{"r":"Points","x":88,"l":""},
      {"r":"Points","x":90,"l":"90"},{"r":"Points","x":92,"l":""},{"r":"Points","x":94,"l":""},{"r":"Points","x":96,"l":""},{"r":"Points","x":98,"l":""},
      {"r":"Points","x":100,"l":"100"},
      {"r":"F2R","x":0,"l":"4.5"},{"r":"F2R","x":4.46,"l":""},{"r":"F2R","x":8.92,"l":"5.5"},{"r":"F2R","x":13.38,"l":""},{"r":"F2R","x":17.84,"l":"6.5"},
      {"r":"F2R","x":22.3,"l":""},{"r":"F2R","x":26.76,"l":"7.5"},{"r":"F2R","x":31.22,"l":""},{"r":"F2R","x":35.68,"l":"8.5"},{"r":"F2R","x":40.14,"l":""},
      {"r":"F2R","x":44.6,"l":"9.5"},
      {"r":"CXCL10","x":0,"l":"4.5"},{"r":"CXCL10","x":3.86,"l":""},{"r":"CXCL10","x":7.72,"l":"5.5"},{"r":"CXCL10","x":11.58,"l":""},{"r":"CXCL10","x":15.44,"l":"6.5"},
      {"r":"CXCL10","x":19.3,"l":""},{"r":"CXCL10","x":23.16,"l":"7.5"},{"r":"CXCL10","x":27.02,"l":""},{"r":"CXCL10","x":30.88,"l":"8.5"},{"r":"CXCL10","x":34.74,"l":""},
      {"r":"CXCL10","x":38.6,"l":"9.5"},{"r":"CXCL10","x":42.46,"l":""},{"r":"CXCL10","x":46.32,"l":"10.5"},{"r":"CXCL10","x":50.18,"l":""},{"r":"CXCL10","x":54.04,"l":"11.5"},
      {"r":"CXCL10","x":57.9,"l":""},
      {"r":"GAL","x":0,"l":"4.5"},{"r":"GAL","x":14.29,"l":"5"},{"r":"GAL","x":28.57,"l":"5.5"},{"r":"GAL","x":42.86,"l":"6"},{"r":"GAL","x":57.14,"l":"6.5"},
      {"r":"GAL","x":71.43,"l":"7"},{"r":"GAL","x":85.71,"l":"7.5"},{"r":"GAL","x":100,"l":"8"}
    ],
    "nomoTot": [
      {"r":"Total Points","x":0,"l":"0"},{"r":"Total Points","x":5,"l":""},{"r":"Total Points","x":10,"l":""},{"r":"Total Points","x":15,"l":""},
      {"r":"Total Points","x":20,"l":"20"},{"r":"Total Points","x":25,"l":""},{"r":"Total Points","x":30,"l":""},{"r":"Total Points","x":35,"l":""},
      {"r":"Total Points","x":40,"l":"40"},{"r":"Total Points","x":45,"l":""},{"r":"Total Points","x":50,"l":""},{"r":"Total Points","x":55,"l":""},
      {"r":"Total Points","x":60,"l":"60"},{"r":"Total Points","x":65,"l":""},{"r":"Total Points","x":70,"l":""},{"r":"Total Points","x":75,"l":""},
      {"r":"Total Points","x":80,"l":"80"},{"r":"Total Points","x":85,"l":""},{"r":"Total Points","x":90,"l":""},{"r":"Total Points","x":95,"l":""},
      {"r":"Total Points","x":100,"l":"100"},{"r":"Total Points","x":105,"l":""},{"r":"Total Points","x":110,"l":""},{"r":"Total Points","x":115,"l":""},
      {"r":"Total Points","x":120,"l":"120"},{"r":"Total Points","x":125,"l":""},{"r":"Total Points","x":130,"l":""},{"r":"Total Points","x":135,"l":""},
      {"r":"Total Points","x":140,"l":"140"},{"r":"Total Points","x":145,"l":""},{"r":"Total Points","x":150,"l":""},{"r":"Total Points","x":155,"l":""},
      {"r":"Total Points","x":160,"l":"160"},
      {"r":"Risk of Disease","x":32.7,"l":"0.1"},{"r":"Risk of Disease","x":58.9,"l":"0.3"},{"r":"Risk of Disease","x":70.1,"l":"0.5"},
      {"r":"Risk of Disease","x":83.6,"l":"0.7"},{"r":"Risk of Disease","x":107.5,"l":"0.9"},{"r":"Risk of Disease","x":148.4,"l":"0.99"}
    ],
    "calib": [
      {"k":"Apparent","p":0.308,"a":0.300},{"k":"Apparent","p":0.365,"a":0.372},{"k":"Apparent","p":0.416,"a":0.457},{"k":"Apparent","p":0.467,"a":0.529},
      {"k":"Apparent","p":0.498,"a":0.579},{"k":"Apparent","p":0.540,"a":0.603},{"k":"Apparent","p":0.591,"a":0.637},{"k":"Apparent","p":0.632,"a":0.661},
      {"k":"Apparent","p":0.673,"a":0.673},{"k":"Apparent","p":0.720,"a":0.670},{"k":"Apparent","p":0.776,"a":0.670},{"k":"Apparent","p":0.817,"a":0.751},
      {"k":"Apparent","p":0.868,"a":0.859},{"k":"Apparent","p":0.920,"a":0.944},{"k":"Apparent","p":0.985,"a":1.013},
      {"k":"Bias−corrected","p":0.308,"a":0.363},{"k":"Bias−corrected","p":0.365,"a":0.444},{"k":"Bias−corrected","p":0.401,"a":0.498},{"k":"Bias−corrected","p":0.457,"a":0.577},
      {"k":"Bias−corrected","p":0.500,"a":0.609},{"k":"Bias−corrected","p":0.540,"a":0.631},{"k":"Bias−corrected","p":0.581,"a":0.651},{"k":"Bias−corrected","p":0.622,"a":0.664},
      {"k":"Bias−corrected","p":0.663,"a":0.663},{"k":"Bias−corrected","p":0.694,"a":0.655},{"k":"Bias−corrected","p":0.745,"a":0.651},{"k":"Bias−corrected","p":0.781,"a":0.649},
      {"k":"Bias−corrected","p":0.796,"a":0.673},{"k":"Bias−corrected","p":0.848,"a":0.763},{"k":"Bias−corrected","p":0.899,"a":0.854},{"k":"Bias−corrected","p":0.951,"a":0.932},
      {"k":"Bias−corrected","p":0.990,"a":0.980},
      {"k":"Ideal","p":0.2775,"a":0.2775},{"k":"Ideal","p":1.048,"a":1.048}
    ],
    "rug": [
      {"p":0.308},{"p":0.319},{"p":0.406},{"p":0.467},{"p":0.475},{"p":0.493},{"p":0.545},{"p":0.550},{"p":0.560},{"p":0.570},{"p":0.578},
      {"p":0.617},{"p":0.627},{"p":0.642},{"p":0.658},{"p":0.673},{"p":0.709},{"p":0.714},{"p":0.725},{"p":0.735},{"p":0.745},{"p":0.786},
      {"p":0.796},{"p":0.807},{"p":0.817},{"p":0.843},{"p":0.910},{"p":0.920},{"p":0.940},{"p":0.951},{"p":0.961},{"p":0.971},{"p":0.981}
    ]
  },
  "spacing": 312,
  "bounds": "flush",
  "resolve": {"scale": {"color": "independent", "fill": "independent", "stroke": "independent", "strokeDash": "independent", "theta": "independent"}, "legend": {"color": "independent", "fill": "independent", "stroke": "independent", "strokeDash": "independent"}},
  "vconcat": [
    {
      "spacing": 101,
      "bounds": "flush",
      "resolve": {"scale": {"color": "independent", "fill": "independent", "stroke": "independent", "strokeDash": "independent", "theta": "independent"}, "legend": {"color": "independent", "fill": "independent", "stroke": "independent", "strokeDash": "independent"}},
      "hconcat": [
        {
          "width": 274,
          "height": 236,
          "title": {"text": "A", "dx": -34.3, "dy": 15},
          "layer": [
            {
              "data": {"name": "chroms"},
              "mark": {"type": "arc", "radius": 135, "radius2": 119, "padAngle": 0.0174, "stroke": "#444", "strokeWidth": 0.5},
              "encoding": {
                "theta": {"field": "s", "type": "quantitative", "stack": null, "scale": {"domain": [0, 3088.28], "range": [1.5708, 7.854]}},
                "theta2": {"field": "e"},
                "color": {
                  "field": "c", "type": "nominal", "legend": null,
                  "scale": {
                    "domain": ["chr1","chr2","chr3","chr4","chr5","chr6","chr7","chr8","chr9","chr10","chr11","chr12","chr13","chr14","chr15","chr16","chr17","chr18","chr19","chr20","chr21","chr22","chrX","chrY"],
                    "range": ["#0E6688","#F0A2DC","#7A3DC2","#A259F2","#4A2FE0","#E6A0E6","#80EEC8","#0A0A60","#E0628C","#F01AB8","#8A3212","#12A89A","#EE4212","#94F2F0","#0C4C5A","#1CC01C","#94F0E2","#F094D2","#B4A4F2","#D27222","#34C2C2","#3452B2","#AA92E8","#F09212"]
                  }
                }
              }
            },
            {
              "data": {"name": "chroms"},
              "transform": [
                {"calculate": "(datum.s + datum.e) / 2", "as": "m"},
                {"calculate": "((datum.m / 3088.28 * 360) % 180) - 90", "as": "ang"}
              ],
              "mark": {"type": "text", "radius": 127, "fontSize": 5.5, "fill": "white", "align": "center", "baseline": "middle"},
              "encoding": {
                "theta": {"field": "m", "type": "quantitative", "stack": null},
                "text": {"field": "c"},
                "angle": {"field": "ang", "type": "quantitative", "scale": null}
              }
            },
            {
              "data": {"name": "chroms"},
              "mark": {"type": "arc", "radius": 113, "radius2": 100, "padAngle": 0.0174, "fill": "white"},
              "encoding": {
                "theta": {"field": "s", "type": "quantitative", "stack": null},
                "theta2": {"field": "e"}
              }
            },
            {
              "data": {"name": "bands"},
              "transform": [
                {"lookup": "c", "from": {"data": {"name": "chroms"}, "key": "c", "fields": ["s"]}, "as": ["off"]},
                {"calculate": "datum.off + datum.s", "as": "gs"},
                {"calculate": "datum.off + datum.e", "as": "ge"}
              ],
              "mark": {"type": "arc", "radius": 113, "radius2": 100},
              "encoding": {
                "theta": {"field": "gs", "type": "quantitative", "stack": null},
                "theta2": {"field": "ge"},
                "fill": {
                  "field": "g", "type": "nominal", "legend": null,
                  "scale": {"domain": ["1","2","3","a","v","t"], "range": ["#000000","#828282","#C8C8C8","#D92F27","#DCDCDC","#647FA4"]}
                }
              }
            },
            {
              "data": {"name": "chroms"},
              "mark": {"type": "arc", "radius": 113, "radius2": 100, "padAngle": 0.0174, "fill": "white", "fillOpacity": 0, "stroke": "#222", "strokeWidth": 0.5},
              "encoding": {
                "theta": {"field": "s", "type": "quantitative", "stack": null},
                "theta2": {"field": "e"}
              }
            },
            {
              "data": {"name": "genes"},
              "transform": [
                {"lookup": "c", "from": {"data": {"name": "chroms"}, "key": "c", "fields": ["s"]}, "as": ["off"]},
                {"calculate": "datum.off + datum.p", "as": "gp"}
              ],
              "mark": {"type": "arc", "radius": 101, "radius2": 89, "fill": "white", "fillOpacity": 0, "stroke": "#333", "strokeWidth": 0.7},
              "encoding": {
                "theta": {"field": "gp", "type": "quantitative", "stack": null},
                "theta2": {"field": "gp"}
              }
            },
            {
              "data": {"name": "genes"},
              "transform": [
                {"lookup": "c", "from": {"data": {"name": "chroms"}, "key": "c", "fields": ["s"]}, "as": ["off"]},
                {"calculate": "datum.off + datum.p", "as": "gp"},
                {"calculate": "datum.gp / 3088.28 * 360", "as": "a0"},
                {"filter": "datum.a0 > 90 && datum.a0 < 270"},
                {"calculate": "datum.a0 - 180", "as": "ang"}
              ],
              "mark": {"type": "text", "radius": 87, "fontSize": 7.5, "fill": "#333", "align": "left", "baseline": "middle"},
              "encoding": {
                "theta": {"field": "gp", "type": "quantitative", "stack": null},
                "text": {"field": "gene"},
                "angle": {"field": "ang", "type": "quantitative", "scale": null}
              }
            },
            {
              "data": {"name": "genes"},
              "transform": [
                {"lookup": "c", "from": {"data": {"name": "chroms"}, "key": "c", "fields": ["s"]}, "as": ["off"]},
                {"calculate": "datum.off + datum.p", "as": "gp"},
                {"calculate": "datum.gp / 3088.28 * 360", "as": "a0"},
                {"filter": "datum.a0 <= 90 || datum.a0 >= 270"},
                {"calculate": "datum.a0 >= 270 ? datum.a0 - 360 : datum.a0", "as": "ang"}
              ],
              "mark": {"type": "text", "radius": 87, "fontSize": 7.5, "fill": "#333", "align": "right", "baseline": "middle"},
              "encoding": {
                "theta": {"field": "gp", "type": "quantitative", "stack": null},
                "text": {"field": "gene"},
                "angle": {"field": "ang", "type": "quantitative", "scale": null}
              }
            }
          ]
        },
        {
          "width": 270,
          "height": 247,
          "view": {"stroke": "#8a8a8a", "strokeWidth": 1},
          "title": {"text": "B", "dx": -24.7, "dy": -1},
          "layer": [
            {
              "data": {"name": "pca"},
              "mark": {"type": "point", "filled": true, "size": 15, "opacity": 1},
              "encoding": {
                "x": {
                  "field": "pc1", "type": "quantitative",
                  "scale": {"domain": [-2.89, 4.86], "nice": false, "zero": false},
                  "axis": {"values": [-2.5, 0, 2.5], "format": ".1f", "title": "PC1", "domain": false, "tickColor": "#333", "tickSize": 3, "labelColor": "#4D4D4D", "labelFontSize": 7.6, "labelPadding": 1, "titleFontSize": 9.5, "titleFontWeight": "normal", "titleColor": "black", "titlePadding": 1}
                },
                "y": {
                  "field": "pc2", "type": "quantitative",
                  "scale": {"domain": [-2.12, 2.18], "nice": false, "zero": false},
                  "axis": {"values": [-2, -1, 0, 1, 2], "format": "d", "title": "PC2", "domain": false, "tickColor": "#333", "tickSize": 3, "labelColor": "#4D4D4D", "labelFontSize": 7.6, "labelPadding": 1, "titleFontSize": 9.5, "titleFontWeight": "normal", "titleColor": "black", "titlePadding": 2.5}
                },
                "color": {
                  "field": "t", "type": "nominal",
                  "scale": {"domain": ["Control", "Treat"], "range": ["#0000FF", "#FF0000"]},
                  "legend": {
                    "orient": "none", "legendX": 283, "legendY": 100, "title": "Type",
                    "titleFontSize": 9, "titleFontWeight": "normal", "titleColor": "black", "titlePadding": 6,
                    "labelFontSize": 7, "labelColor": "#222", "labelOffset": 5,
                    "symbolType": "M-1,-0.1H1V0.1H-1Z M-0.42,0A0.42,0.42 0 1,1 0.42,0A0.42,0.42 0 1,1 -0.42,0Z",
                    "symbolSize": 169, "symbolStrokeWidth": 0, "rowPadding": 3
                  }
                }
              }
            },
            {
              "data": {"name": "pcaEllipse"},
              "mark": {"type": "line", "strokeDash": [7, 5], "strokeWidth": 2, "interpolate": "cardinal"},
              "encoding": {
                "x": {"field": "pc1", "type": "quantitative"},
                "y": {"field": "pc2", "type": "quantitative"},
                "stroke": {"field": "t", "type": "nominal", "scale": {"domain": ["Control", "Treat"], "range": ["#0000FF", "#FF0000"]}, "legend": null},
                "order": {"field": "i"}
              }
            },
            {
              "data": {"name": "pcaCentres"},
              "mark": {"type": "text", "fontSize": 8.9, "fill": "#111"},
              "encoding": {
                "x": {"field": "pc1", "type": "quantitative"},
                "y": {"field": "pc2", "type": "quantitative"},
                "text": {"field": "t"}
              }
            }
          ]
        }
      ]
    },
    {
      "spacing": 325.3,
      "bounds": "flush",
      "resolve": {"scale": {"color": "independent", "fill": "independent", "stroke": "independent", "strokeDash": "independent", "theta": "independent"}, "legend": {"color": "independent", "fill": "independent", "stroke": "independent", "strokeDash": "independent"}},
      "vconcat": [
        {
          "spacing": 91.3,
          "bounds": "flush",
          "resolve": {"scale": {"color": "independent", "fill": "independent", "stroke": "independent", "strokeDash": "independent"}, "legend": {"color": "independent", "fill": "independent", "stroke": "independent", "strokeDash": "independent"}},
          "hconcat": [
            {
              "width": 301,
              "height": 227,
              "title": {"text": "C", "dx": -34.3, "dy": 11},
              "layer": [
                {
                  "data": {"name": "boxes"},
                  "mark": {"type": "rule", "stroke": "#333", "strokeWidth": 0.8},
                  "encoding": {
                    "x": {
                      "field": "g", "type": "nominal",
                      "scale": {"domain": ["F2R", "CXCL10", "GAL"], "paddingInner": 0, "paddingOuter": 0.1},
                      "axis": {"title": null, "labelAngle": -45, "labelAlign": "right", "labelBaseline": "middle", "labelFontSize": 10.5, "labelColor": "#333", "labelPadding": 3, "tickColor": "black", "tickSize": 2.7, "domainColor": "black", "domainWidth": 1}
                    },
                    "xOffset": {"field": "t", "type": "nominal", "scale": {"domain": ["Control", "Treat"], "paddingInner": 0.07, "paddingOuter": 0.285}},
                    "y": {
                      "field": "lo", "type": "quantitative",
                      "scale": {"domain": [4.333, 13.79], "nice": false, "zero": false},
                      "axis": {"values": [6, 8, 10], "title": "Gene expression", "titleFontSize": 10.1, "titleFontWeight": "normal", "titleColor": "black", "titlePadding": 3, "labelFontSize": 10.5, "labelColor": "#333", "labelPadding": 1.5, "tickColor": "black", "tickSize": 2.7, "domainColor": "black", "domainWidth": 1, "domainDash": [183, 400]}
                    },
                    "y2": {"field": "hi"}
                  }
                },
                {
                  "data": {"name": "boxes"},
                  "mark": {"type": "bar", "stroke": "#333", "strokeWidth": 0.8},
                  "encoding": {
                    "x": {"field": "g", "type": "nominal"},
                    "xOffset": {"field": "t", "type": "nominal"},
                    "y": {"field": "q1", "type": "quantitative"},
                    "y2": {"field": "q3"},
                    "fill": {
                      "field": "t", "type": "nominal",
                      "scale": {"domain": ["Control", "Treat"], "range": ["#0A88FF", "#FF5757"]},
                      "legend": {
                        "orient": "none", "legendX": 93, "legendY": 16, "direction": "horizontal", "titleOrient": "left",
                        "title": "Type", "titleFontSize": 9, "titleFontWeight": "normal", "titleColor": "black", "titlePadding": 6,
                        "labelFontSize": 8.3, "labelColor": "#222", "labelOffset": 6, "columnPadding": 8,
                        "symbolType": "M-0.8,-0.55H0.8V0.55H-0.8Z M-0.8,0H0.8 M0,-0.55V-1 M0,0.55V1",
                        "symbolSize": 144, "symbolStrokeColor": "#333", "symbolStrokeWidth": 0.8, "symbolOpacity": 1
                      }
                    }
                  }
                },
                {
                  "data": {"name": "boxes"},
                  "mark": {"type": "tick", "thickness": 2, "size": 35, "color": "black"},
                  "encoding": {
                    "x": {"field": "g", "type": "nominal"},
                    "xOffset": {"field": "t", "type": "nominal"},
                    "y": {"field": "med", "type": "quantitative"}
                  }
                },
                {
                  "data": {"name": "outliers"},
                  "mark": {"type": "point", "filled": true, "size": 15, "color": "black", "opacity": 1},
                  "encoding": {
                    "x": {"field": "g", "type": "nominal"},
                    "xOffset": {"field": "t", "type": "nominal"},
                    "y": {"field": "v", "type": "quantitative"}
                  }
                },
                {
                  "data": {"name": "stars"},
                  "mark": {"type": "text", "fontSize": 9, "fill": "#222", "baseline": "middle"},
                  "encoding": {
                    "x": {"field": "g", "type": "nominal"},
                    "y": {"datum": 11.75, "type": "quantitative"},
                    "text": {"field": "s"}
                  }
                }
              ]
            },
            {
              "width": 263.4,
              "height": 233.7,
              "view": {"stroke": "#333", "strokeWidth": 1},
              "title": {"text": "D", "dx": -42, "dy": 12},
              "layer": [
                {
                  "data": {"values": [{}]},
                  "mark": {"type": "rule", "color": "#C8C8C8", "strokeWidth": 1, "clip": true},
                  "encoding": {
                    "x": {
                      "datum": -0.04, "type": "quantitative",
                      "scale": {"domain": [-0.111, 1.111], "nice": false, "zero": false},
                      "axis": {"values": [0, 0.2, 0.4, 0.6, 0.8, 1], "format": ".1f", "title": "1 − Specificity", "domain": false, "tickSize": 6, "tickColor": "#8c8c8c", "labelBaseline": "middle", "labelPadding": 14, "labelFontSize": 9.8, "labelColor": "#222", "labelOverlap": false, "titleFontSize": 10.1, "titleFontWeight": "normal", "titleColor": "#222", "titlePadding": 7}
                    },
                    "x2": {"datum": 1.043},
                    "y": {
                      "datum": -0.04, "type": "quantitative",
                      "scale": {"domain": [-0.04, 1.043], "nice": false, "zero": false},
                      "axis": {"values": [0, 0.2, 0.4, 0.6, 0.8, 1], "format": ".1f", "title": "Sensitivity", "domain": false, "tickSize": 6, "tickColor": "#8c8c8c", "labelAngle": -90, "labelAlign": "center", "labelBaseline": "middle", "labelPadding": 11.6, "labelFontSize": 9.8, "labelColor": "#222", "labelOverlap": false, "titleFontSize": 10.1, "titleFontWeight": "normal", "titleColor": "#222", "titlePadding": 9}
                    },
                    "y2": {"datum": 1.043}
                  }
                },
                {
                  "data": {"name": "roc"},
                  "mark": {"type": "line", "interpolate": "step-after", "strokeWidth": 2},
                  "encoding": {
                    "x": {"field": "fpr", "type": "quantitative"},
                    "y": {"field": "tpr", "type": "quantitative"},
                    "order": {"field": "i"},
                    "color": {
                      "field": "g", "type": "nominal",
                      "scale": {"domain": ["F2R", "CXCL10", "GAL"], "range": ["#E81C1C", "#1FDB1F", "#1414F0"]},
                      "legend": {
                        "orient": "none", "legendX": 133, "legendY": 180, "title": null,
                        "labelExpr": "datum.label == 'F2R' ? 'F2R, AUC=0.716' : datum.label == 'CXCL10' ? 'CXCL10, AUC=0.675' : 'GAL, AUC=0.770'",
                        "symbolType": "stroke", "symbolSize": 361, "symbolStrokeWidth": 2,
                        "labelFontSize": 10.4, "labelColor": "#222", "labelOffset": 9, "rowPadding": -6
                      }
                    }
                  }
                }
              ]
            }
          ]
        },
        {
          "spacing": 81.7,
          "bounds": "flush",
          "resolve": {"scale": {"color": "independent", "fill": "independent", "stroke": "independent", "strokeDash": "independent"}, "legend": {"color": "independent", "fill": "independent", "stroke": "independent", "strokeDash": "independent"}},
          "hconcat": [
            {
              "width": 323,
              "height": 252.8,
              "title": {"text": "E", "dx": -34.3, "dy": 12.3},
              "resolve": {"scale": {"x": "independent"}},
              "layer": [
                {
                  "data": {"name": "nomoPts"},
                  "transform": [{"aggregate": [{"op": "min", "field": "x", "as": "x0"}, {"op": "max", "field": "x", "as": "x1"}], "groupby": ["r"]}],
                  "mark": {"type": "rule", "stroke": "#333", "strokeWidth": 0.8},
                  "encoding": {
                    "x": {"field": "x0", "type": "quantitative", "scale": {"domain": [-21.19, 102.57], "nice": false, "zero": false}, "axis": null},
                    "x2": {"field": "x1"},
                    "y": {
                      "field": "r", "type": "nominal",
                      "scale": {"type": "point", "padding": 0.66, "domain": ["Points", "F2R", "CXCL10", "GAL", "Total Points", "Risk of Disease"]},
                      "axis": {"title": null, "domain": false, "ticks": false, "tickSize": 0, "labelAlign": "left", "labelBaseline": "middle", "labelPadding": 36, "labelFontSize": 8.3, "labelColor": "#222"}
                    }
                  }
                },
                {
                  "data": {"name": "nomoPts"},
                  "transform": [{"filter": "datum.l != '' && datum.r != 'Points'"}],
                  "mark": {"type": "tick", "size": 3.4, "thickness": 0.8, "color": "#333", "yOffset": 1.7},
                  "encoding": {
                    "x": {"field": "x", "type": "quantitative", "scale": {"domain": [-21.19, 102.57], "nice": false, "zero": false}, "axis": null},
                    "y": {"field": "r", "type": "nominal"}
                  }
                },
                {
                  "data": {"name": "nomoPts"},
                  "transform": [{"filter": "datum.l == '' && datum.r != 'Points'"}],
                  "mark": {"type": "tick", "size": 2, "thickness": 0.8, "color": "#333", "yOffset": 1},
                  "encoding": {
                    "x": {"field": "x", "type": "quantitative", "scale": {"domain": [-21.19, 102.57], "nice": false, "zero": false}, "axis": null},
                    "y": {"field": "r", "type": "nominal"}
                  }
                },
                {
                  "data": {"name": "nomoPts"},
                  "transform": [{"filter": "datum.l != '' && datum.r == 'Points'"}],
                  "mark": {"type": "tick", "size": 3.4, "thickness": 0.8, "color": "#333", "yOffset": -1.7},
                  "encoding": {
                    "x": {"field": "x", "type": "quantitative", "scale": {"domain": [-21.19, 102.57], "nice": false, "zero": false}, "axis": null},
                    "y": {"field": "r", "type": "nominal"}
                  }
                },
                {
                  "data": {"name": "nomoPts"},
                  "transform": [{"filter": "datum.l == '' && datum.r == 'Points'"}],
                  "mark": {"type": "tick", "size": 2, "thickness": 0.8, "color": "#333", "yOffset": -1},
                  "encoding": {
                    "x": {"field": "x", "type": "quantitative", "scale": {"domain": [-21.19, 102.57], "nice": false, "zero": false}, "axis": null},
                    "y": {"field": "r", "type": "nominal"}
                  }
                },
                {
                  "data": {"name": "nomoPts"},
                  "transform": [{"filter": "datum.l != '' && datum.r != 'Points'"}],
                  "mark": {"type": "text", "fontSize": 7, "fill": "#333", "baseline": "middle", "dy": 9.3},
                  "encoding": {
                    "x": {"field": "x", "type": "quantitative", "scale": {"domain": [-21.19, 102.57], "nice": false, "zero": false}, "axis": null},
                    "y": {"field": "r", "type": "nominal"},
                    "text": {"field": "l"}
                  }
                },
                {
                  "data": {"name": "nomoPts"},
                  "transform": [{"filter": "datum.l != '' && datum.r == 'Points'"}],
                  "mark": {"type": "text", "fontSize": 7, "fill": "#333", "baseline": "middle", "dy": -9.7},
                  "encoding": {
                    "x": {"field": "x", "type": "quantitative", "scale": {"domain": [-21.19, 102.57], "nice": false, "zero": false}, "axis": null},
                    "y": {"field": "r", "type": "nominal"},
                    "text": {"field": "l"}
                  }
                },
                {
                  "data": {"name": "nomoTot"},
                  "transform": [{"aggregate": [{"op": "min", "field": "x", "as": "x0"}, {"op": "max", "field": "x", "as": "x1"}], "groupby": ["r"]}],
                  "mark": {"type": "rule", "stroke": "#333", "strokeWidth": 0.8},
                  "encoding": {
                    "x": {"field": "x0", "type": "quantitative", "scale": {"domain": [-33.904, 164.112], "nice": false, "zero": false}, "axis": null},
                    "x2": {"field": "x1"},
                    "y": {"field": "r", "type": "nominal"}
                  }
                },
                {
                  "data": {"name": "nomoTot"},
                  "transform": [{"filter": "datum.l != ''"}],
                  "mark": {"type": "tick", "size": 3.4, "thickness": 0.8, "color": "#333", "yOffset": 1.7},
                  "encoding": {
                    "x": {"field": "x", "type": "quantitative", "scale": {"domain": [-33.904, 164.112], "nice": false, "zero": false}, "axis": null},
                    "y": {"field": "r", "type": "nominal"}
                  }
                },
                {
                  "data": {"name": "nomoTot"},
                  "transform": [{"filter": "datum.l == ''"}],
                  "mark": {"type": "tick", "size": 2, "thickness": 0.8, "color": "#333", "yOffset": 1},
                  "encoding": {
                    "x": {"field": "x", "type": "quantitative", "scale": {"domain": [-33.904, 164.112], "nice": false, "zero": false}, "axis": null},
                    "y": {"field": "r", "type": "nominal"}
                  }
                },
                {
                  "data": {"name": "nomoTot"},
                  "transform": [{"filter": "datum.l != ''"}],
                  "mark": {"type": "text", "fontSize": 7, "fill": "#333", "baseline": "middle", "dy": 8.7},
                  "encoding": {
                    "x": {"field": "x", "type": "quantitative", "scale": {"domain": [-33.904, 164.112], "nice": false, "zero": false}, "axis": null},
                    "y": {"field": "r", "type": "nominal"},
                    "text": {"field": "l"}
                  }
                }
              ]
            },
            {
              "width": 250,
              "height": 214,
              "view": {"stroke": "#333", "strokeWidth": 1},
              "title": {"text": "F", "dx": -54.4, "dy": 6.9},
              "layer": [
                {
                  "data": {"name": "rug"},
                  "mark": {"type": "rule", "color": "#A8A8A8", "strokeWidth": 0.6},
                  "encoding": {
                    "x": {
                      "field": "p", "type": "quantitative",
                      "scale": {"domain": [0.2775, 1.048], "nice": false, "zero": false},
                      "axis": {"values": [0.3, 0.4, 0.5, 0.6, 0.7, 0.8, 0.9, 1.0], "format": ".1f", "title": "Predicted probability", "domain": false, "tickSize": 5, "tickColor": "#555", "labelBaseline": "middle", "labelPadding": 14.4, "labelFontSize": 9.6, "labelColor": "#222", "labelOverlap": false, "labelSeparation": 0, "tickCount": 8, "titleFontSize": 9.6, "titleFontWeight": "normal", "titleColor": "#222", "titlePadding": 11.5}
                    },
                    "y": {
                      "datum": 1.048, "type": "quantitative",
                      "scale": {"domain": [0.276, 1.048], "nice": false, "zero": false},
                      "axis": {"values": [0.3, 0.4, 0.5, 0.6, 0.7, 0.8, 0.9, 1.0], "format": ".1f", "title": "Actual probability", "domain": false, "tickSize": 5, "tickColor": "#555", "labelAngle": -90, "labelAlign": "center", "labelBaseline": "middle", "labelPadding": 13.4, "labelFontSize": 9.6, "labelColor": "#222", "labelOverlap": false, "labelSeparation": 0, "tickCount": 8, "titleFontSize": 9.6, "titleFontWeight": "normal", "titleColor": "#222", "titlePadding": 11.8}
                    },
                    "y2": {"datum": 1.03}
                  }
                },
                {
                  "data": {"name": "calib"},
                  "mark": {"type": "line", "strokeWidth": 1.1, "interpolate": "monotone", "clip": true},
                  "encoding": {
                    "x": {"field": "p", "type": "quantitative"},
                    "y": {"field": "a", "type": "quantitative"},
                    "color": {
                      "field": "k", "type": "nominal",
                      "scale": {"domain": ["Apparent", "Bias−corrected", "Ideal"], "range": ["#8C8C8C", "#4A4A4A", "#333333"]},
                      "legend": {"orient": "none", "legendX": 145, "legendY": 143, "title": null, "symbolType": "stroke", "symbolSize": 324, "symbolStrokeWidth": 1.1, "labelFontSize": 9.7, "labelColor": "#222", "labelOffset": 8, "rowPadding": -8.4}
                    },
                    "strokeDash": {
                      "field": "k", "type": "nominal",
                      "scale": {"domain": ["Apparent", "Bias−corrected", "Ideal"], "range": [[1, 2], [1, 0], [3, 3]]},
                      "legend": {"orient": "none", "legendX": 145, "legendY": 143, "title": null, "symbolType": "stroke", "symbolSize": 324, "symbolStrokeWidth": 1.1, "labelFontSize": 9.7, "labelColor": "#222", "labelOffset": 8, "rowPadding": -8.4}
                    }
                  }
                }
              ]
            }
          ]
        }
      ]
    }
  ]
}
